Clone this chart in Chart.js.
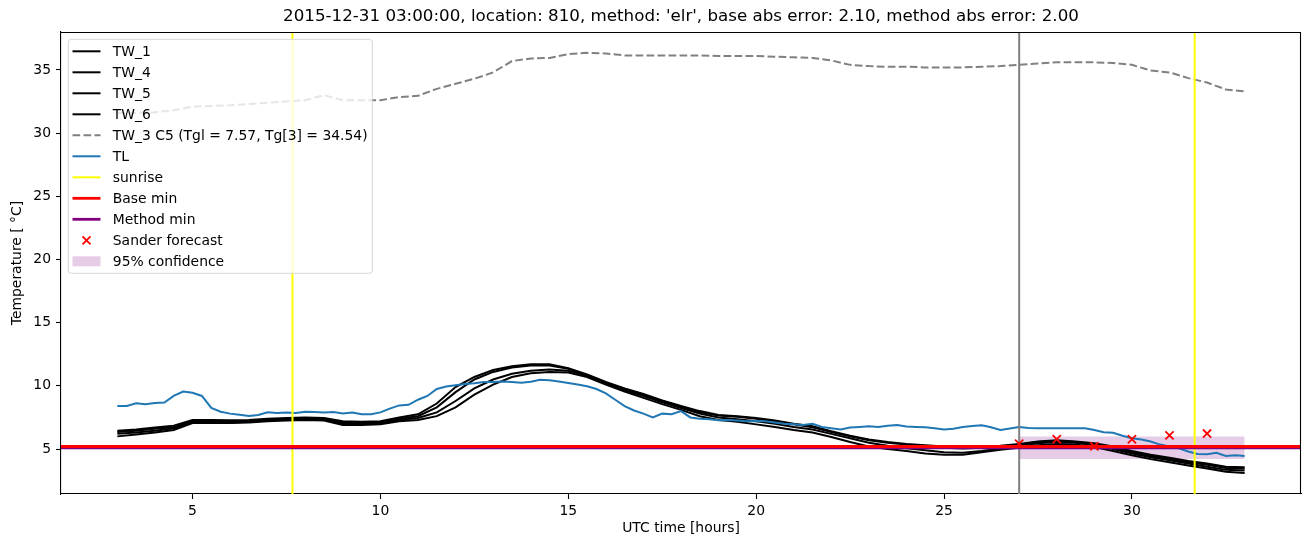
<!DOCTYPE html>
<html>
<head>
<meta charset="utf-8">
<script src="https://cdn.jsdelivr.net/npm/chart.js@4"></script>
<style>
  html, body { margin: 0; padding: 0; background: #fff; }
</style>
</head>
<body>
<canvas id="tempChart" width="1310" height="547"></canvas>
<script>
const titleText = "2015-12-31 03:00:00, location: 810, method: 'elr', base abs error: 2.10, method abs error: 2.00";

// half-hourly water temperatures
const hoursW = [3, 3.5, 4, 4.5, 5, 5.5, 6, 6.5, 7, 7.5, 8, 8.5, 9, 9.5, 10, 10.5, 11, 11.5, 12, 12.5,
  13, 13.5, 14, 14.5, 15, 15.5, 16, 16.5, 17, 17.5, 18, 18.5, 19, 19.5, 20, 20.5, 21, 21.5, 22, 22.5,
  23, 23.5, 24, 24.5, 25, 25.5, 26, 26.5, 27, 27.5, 28, 28.5, 29, 29.5, 30, 30.5, 31, 31.5, 32, 32.5, 33];

const tw1 = [6.45, 6.55, 6.7, 6.85, 7.3, 7.3, 7.28, 7.3, 7.4, 7.45, 7.5, 7.45, 7.2, 7.15, 7.2, 7.5,
  7.75, 8.6, 9.9, 10.7, 11.25, 11.55, 11.7, 11.7, 11.4, 10.9, 10.3, 9.8, 9.35, 8.85, 8.4, 8.0,
  7.7, 7.6, 7.45, 7.25, 7.0, 6.8, 6.4, 6.05, 5.75, 5.55, 5.4, 5.3, 5.2, 5.15, 5.2, 5.25,
  5.4, 5.6, 5.7, 5.6, 5.45, 5.2, 4.85, 4.55, 4.3, 4.05, 3.85, 3.6, 3.55];
const tw4 = [6.35, 6.45, 6.6, 6.75, 7.2, 7.22, 7.2, 7.22, 7.33, 7.4, 7.45, 7.4, 7.1, 7.05, 7.1, 7.4,
  7.6, 8.3, 9.5, 10.5, 11.1, 11.45, 11.6, 11.6, 11.35, 10.85, 10.25, 9.75, 9.3, 8.8, 8.35, 7.9,
  7.65, 7.55, 7.4, 7.2, 6.95, 6.72, 6.35, 6.0, 5.7, 5.5, 5.35, 5.2, 5.1, 5.05, 5.1, 5.2,
  5.35, 5.55, 5.65, 5.55, 5.4, 5.1, 4.75, 4.45, 4.2, 3.95, 3.75, 3.5, 3.45];
const tw5 = [6.2, 6.3, 6.45, 6.65, 7.1, 7.12, 7.1, 7.15, 7.25, 7.32, 7.38, 7.32, 7.0, 6.98, 7.02, 7.3,
  7.45, 7.9, 8.8, 9.8, 10.5, 10.95, 11.2, 11.3, 11.2, 10.8, 10.2, 9.65, 9.2, 8.7, 8.25, 7.8,
  7.5, 7.35, 7.2, 7.0, 6.75, 6.55, 6.2, 5.85, 5.5, 5.25, 5.05, 4.9, 4.75, 4.7, 4.85, 5.05,
  5.25, 5.45, 5.55, 5.5, 5.3, 5.0, 4.65, 4.35, 4.1, 3.85, 3.6, 3.35, 3.3];
const tw6 = [6.0, 6.15, 6.3, 6.5, 7.05, 7.05, 7.05, 7.1, 7.2, 7.25, 7.3, 7.25, 6.9, 6.9, 6.95, 7.2,
  7.3, 7.6, 8.3, 9.3, 10.1, 10.7, 11.0, 11.1, 11.05, 10.7, 10.1, 9.55, 9.05, 8.55, 8.1, 7.6,
  7.3, 7.15, 6.95, 6.75, 6.5, 6.3, 5.95, 5.55, 5.2, 5.0, 4.85, 4.65, 4.55, 4.55, 4.75, 4.95,
  5.1, 5.3, 5.4, 5.35, 5.15, 4.85, 4.5, 4.2, 3.95, 3.7, 3.45, 3.2, 3.1];
const tw3 = [31.6, 31.6, 31.65, 31.8, 32.1, 32.15, 32.2, 32.3, 32.4, 32.5, 32.6, 33.0, 32.6, 32.6, 32.6, 32.85,
  32.95, 33.5, 33.9, 34.3, 34.8, 35.7, 35.9, 35.95, 36.25, 36.35, 36.3, 36.15, 36.15, 36.15, 36.15, 36.15,
  36.1, 36.1, 36.1, 36.05, 36.0, 35.95, 35.75, 35.4, 35.3, 35.25, 35.25, 35.2, 35.2, 35.2, 35.25, 35.3,
  35.4, 35.5, 35.6, 35.6, 35.6, 35.55, 35.4, 34.95, 34.8, 34.35, 34.0, 33.45, 33.3];

// quarter-hourly air temperature
const hoursL = [3, 3.25, 3.5, 3.75, 4, 4.25, 4.5, 4.75, 5, 5.25, 5.5, 5.75, 6, 6.25, 6.5, 6.75,
  7, 7.25, 7.5, 7.75, 8, 8.25, 8.5, 8.75, 9, 9.25, 9.5, 9.75, 10, 10.25, 10.5, 10.75,
  11, 11.25, 11.5, 11.75, 12, 12.25, 12.5, 12.75, 13, 13.25, 13.5, 13.75, 14, 14.25, 14.5, 14.75,
  15, 15.25, 15.5, 15.75, 16, 16.25, 16.5, 16.75, 17, 17.25, 17.5, 17.75, 18, 18.25, 18.5, 18.75,
  19, 19.25, 19.5, 19.75, 20, 20.25, 20.5, 20.75, 21, 21.25, 21.5, 21.75, 22, 22.25, 22.5, 22.75,
  23, 23.25, 23.5, 23.75, 24, 24.25, 24.5, 24.75, 25, 25.25, 25.5, 25.75, 26, 26.25, 26.5, 26.75,
  27, 27.25, 27.5, 27.75, 28, 28.25, 28.5, 28.75, 29, 29.25, 29.5, 29.75, 30, 30.25, 30.5, 30.75,
  31, 31.25, 31.5, 31.75, 32, 32.25, 32.5, 32.75, 33];
const tl = [8.4, 8.4, 8.62, 8.55, 8.65, 8.68, 9.2, 9.55, 9.45, 9.2, 8.25, 7.95, 7.8, 7.72, 7.62, 7.7,
  7.9, 7.85, 7.88, 7.85, 7.95, 7.92, 7.88, 7.92, 7.82, 7.88, 7.75, 7.75, 7.9, 8.2, 8.45, 8.5,
  8.9, 9.2, 9.75, 9.95, 10.05, 10.15, 10.2, 10.3, 10.3, 10.35, 10.3, 10.25, 10.33, 10.48, 10.45, 10.35,
  10.22, 10.1, 9.96, 9.75, 9.4, 8.9, 8.4, 8.05, 7.8, 7.5, 7.8, 7.75, 8.0, 7.5, 7.4, 7.35,
  7.28, 7.3, 7.25, 7.2, 7.22, 7.2, 7.1, 7.0, 6.95, 6.9, 7.0, 6.75, 6.65, 6.55, 6.7, 6.75,
  6.8, 6.75, 6.85, 6.9, 6.78, 6.75, 6.72, 6.65, 6.55, 6.6, 6.75, 6.82, 6.88, 6.72, 6.5, 6.62,
  6.74, 6.66, 6.64, 6.64, 6.64, 6.64, 6.64, 6.64, 6.5, 6.33, 6.28, 6.05, 5.85, 5.75, 5.6, 5.35,
  5.2, 5.05, 4.8, 4.6, 4.58, 4.7, 4.45, 4.5, 4.45];

const sunriseHours = [7.66, 31.67];
const forecastStart = 27.0;
const baseMin = 5.2;
const methodMin = 5.1;
const sanderHours = [27, 28, 29, 30, 31, 32];
const sanderValues = [5.42, 5.77, 5.21, 5.77, 6.08, 6.22];
const confHours = [27, 33];
const confLow = 4.21;
const confHigh = 6.0;

const xTicks = [5, 10, 15, 20, 25, 30];
const yTicks = [5, 10, 15, 20, 25, 30, 35];
const X_MIN = 1.5, X_MAX = 34.5;
const Y_MIN = 1.44, Y_MAX = 38.0;

const legendLabels = ['TW_1', 'TW_4', 'TW_5', 'TW_6', 'TW_3 C5 (Tgl = 7.57, Tg[3] = 34.54)', 'TL',
  'sunrise', 'Base min', 'Method min', 'Sander forecast', '95% confidence'];

const FONT = 'DejaVu Sans';
const BLUE = '#1f77b4', GRAY = '#808080', YELLOW = '#ffff00', RED = '#ff0000', PURPLE = '#800080';
const CONF_FILL = 'rgba(128,0,128,0.2)';

const pairs = (xs, ys) => xs.map((x, i) => ({x: x, y: ys[i]}));

function lineSet(label, data, color, width, order, extra) {
  return Object.assign({
    label: label, data: data, borderColor: color, backgroundColor: color,
    borderWidth: width, pointRadius: 0, tension: 0, fill: false, order: order
  }, extra || {});
}

const datasets = [
  lineSet('conf low', pairs(confHours, [confLow, confLow]), 'rgba(0,0,0,0)', 0, 20),
  lineSet('95% confidence', pairs(confHours, [confHigh, confHigh]), 'rgba(0,0,0,0)', 0, 19,
    {fill: '-1', backgroundColor: CONF_FILL}),
  lineSet('TW_1', pairs(hoursW, tw1), '#000', 2, 15),
  lineSet('TW_4', pairs(hoursW, tw4), '#000', 2, 14),
  lineSet('TW_5', pairs(hoursW, tw5), '#000', 2, 13),
  lineSet('TW_6', pairs(hoursW, tw6), '#000', 2, 12),
  lineSet('TW_3', pairs(hoursW, tw3), GRAY, 2, 11, {borderDash: [7.7, 3.3]}),
  lineSet('TL', pairs(hoursL, tl), BLUE, 2, 10),
  lineSet('sunrise 1', [{x: sunriseHours[0], y: Y_MIN}, {x: sunriseHours[0], y: Y_MAX}], YELLOW, 2, 9),
  lineSet('sunrise 2', [{x: sunriseHours[1], y: Y_MIN}, {x: sunriseHours[1], y: Y_MAX}], YELLOW, 2, 9),
  lineSet('forecast start', [{x: forecastStart, y: Y_MIN}, {x: forecastStart, y: Y_MAX}], GRAY, 2, 8),
  lineSet('Method min', [{x: X_MIN, y: methodMin}, {x: X_MAX, y: methodMin}], PURPLE, 3, 6),
  lineSet('Base min', [{x: X_MIN, y: baseMin}, {x: X_MAX, y: baseMin}], RED, 3, 5),
  {
    type: 'scatter', label: 'Sander forecast', data: pairs(sanderHours, sanderValues),
    pointStyle: 'crossRot', pointRadius: 5.8, borderColor: RED, backgroundColor: RED,
    pointBorderWidth: 1.8, order: 2
  }
];

// draws the title, the full axes frame and a matplotlib-like legend
const frameAndLegend = {
  id: 'frameAndLegend',
  afterDraw(chart) {
    const {ctx, chartArea: a} = chart;
    ctx.save();

    ctx.strokeStyle = '#000';
    ctx.lineWidth = 1.1;
    ctx.beginPath();
    ctx.moveTo(a.left, a.top + 0.5);
    ctx.lineTo(a.right - 0.5, a.top + 0.5);
    ctx.lineTo(a.right - 0.5, a.bottom);
    ctx.stroke();

    ctx.fillStyle = '#000';
    ctx.font = '16.7px "' + FONT + '"';
    ctx.textAlign = 'center';
    ctx.textBaseline = 'middle';
    ctx.fillText(titleText, (a.left + a.right) / 2, 17);

    // legend box
    const x0 = a.left + 7.3, y0 = a.top + 7.3, w = 304, h = 234, r = 3;
    ctx.beginPath();
    ctx.moveTo(x0 + r, y0);
    ctx.arcTo(x0 + w, y0, x0 + w, y0 + h, r);
    ctx.arcTo(x0 + w, y0 + h, x0, y0 + h, r);
    ctx.arcTo(x0, y0 + h, x0, y0, r);
    ctx.arcTo(x0, y0, x0 + w, y0, r);
    ctx.closePath();
    ctx.fillStyle = 'rgba(255,255,255,0.8)';
    ctx.fill();
    ctx.strokeStyle = 'rgba(204,204,204,0.8)';
    ctx.lineWidth = 1;
    ctx.stroke();

    const styles = [
      {c: '#000', w: 2}, {c: '#000', w: 2}, {c: '#000', w: 2}, {c: '#000', w: 2},
      {c: GRAY, w: 2, dash: [7.7, 3.3]}, {c: BLUE, w: 2}, {c: YELLOW, w: 2},
      {c: RED, w: 2.8}, {c: PURPLE, w: 2.8}, {marker: true}, {patch: true}
    ];
    const hx0 = x0 + 4.2, hx1 = x0 + 32.2;
    ctx.font = '13.9px "' + FONT + '"';
    ctx.textAlign = 'left';
    legendLabels.forEach((label, i) => {
      const cy = y0 + 12 + i * 21;
      const s = styles[i];
      if (s.patch) {
        ctx.fillStyle = CONF_FILL;
        ctx.fillRect(hx0, cy - 5, hx1 - hx0, 10);
      } else if (s.marker) {
        const mx = (hx0 + hx1) / 2, d = 4;
        ctx.strokeStyle = RED;
        ctx.lineWidth = 1.8;
        ctx.beginPath();
        ctx.moveTo(mx - d, cy - d); ctx.lineTo(mx + d, cy + d);
        ctx.moveTo(mx - d, cy + d); ctx.lineTo(mx + d, cy - d);
        ctx.stroke();
      } else {
        ctx.strokeStyle = s.c;
        ctx.lineWidth = s.w;
        ctx.setLineDash(s.dash || []);
        ctx.beginPath();
        ctx.moveTo(hx0, cy);
        ctx.lineTo(hx1, cy);
        ctx.stroke();
        ctx.setLineDash([]);
      }
      ctx.fillStyle = '#000';
      ctx.fillText(label, x0 + 44.5, cy + 1);
    });
    ctx.restore();
  }
};

const tickFont = {family: FONT, size: 13.9};

new Chart(document.getElementById('tempChart').getContext('2d'), {
  type: 'line',
  data: {datasets: datasets},
  plugins: [frameAndLegend],
  options: {
    responsive: false,
    animation: false,
    events: [],
    layout: {padding: {left: 0, right: 9, top: 32, bottom: 0}},
    plugins: {
      legend: {display: false},
      title: {display: false},
      tooltip: {enabled: false}
    },
    scales: {
      x: {
        type: 'linear', min: X_MIN, max: X_MAX,
        afterBuildTicks: s => { s.ticks = xTicks.map(v => ({value: v})); },
        afterFit: s => { s.height = 53; },
        grid: {display: true, drawOnChartArea: false, drawTicks: true, tickLength: 5, tickColor: '#000', tickWidth: 1.1},
        border: {display: true, color: '#000', width: 1.1},
        ticks: {color: '#000', font: tickFont, padding: 4, maxRotation: 0, autoSkip: false},
        title: {display: true, text: 'UTC time [hours]', color: '#000', font: tickFont, padding: {top: 0, bottom: 10}}
      },
      y: {
        type: 'linear', min: Y_MIN, max: Y_MAX,
        afterBuildTicks: s => { s.ticks = yTicks.map(v => ({value: v})); },
        afterFit: s => { s.width = 61; },
        grid: {display: true, drawOnChartArea: false, drawTicks: true, tickLength: 5, tickColor: '#000', tickWidth: 1.1},
        border: {display: true, color: '#000', width: 1.1},
        ticks: {color: '#000', font: tickFont, padding: 5, autoSkip: false},
        title: {display: true, text: 'Temperature [ °C]', color: '#000', font: tickFont, padding: {top: 9, bottom: 0}}
      }
    }
  }
});
</script>
</body>
</html>
